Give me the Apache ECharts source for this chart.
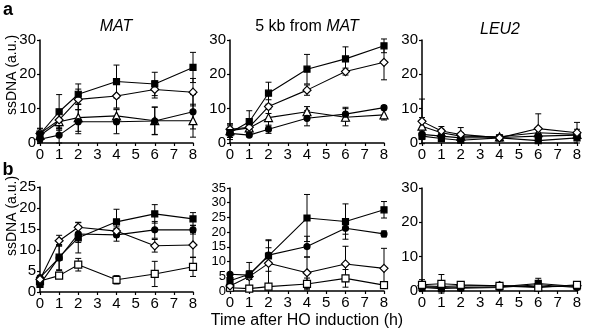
<!DOCTYPE html>
<html>
<head>
<meta charset="utf-8">
<script src="https://cdn.jsdelivr.net/npm/echarts@6/dist/echarts.min.js"></script>
<style>
    html, body { margin: 0; padding: 0; background: #fff; }
    #chart { width: 600px; height: 332px; }
</style>
</head>
<body>
<div id="chart"></div>
<script>
// time points (h)
var hours = [0, 1, 2, 4, 6, 8];

// a, MAT
var aMatSquare = [2.6, 9.1, 14.2, 17.9, 17.2, 22.0];
var aMatSquareErr = [1.5, 5.0, 3.0, 4.8, 3.4, 4.4];
var aMatDiamond = [2.8, 6.7, 12.7, 13.7, 15.6, 14.8];
var aMatDiamondErr = [1.5, 2.5, 3.0, 3.5, 2.5, 4.0];
var aMatTriangle = [2.2, 6.2, 7.4, 7.9, 6.5, 6.5];
var aMatTriangleErr = [1.0, 2.5, 4.0, 2.0, 4.0, 4.8];
var aMatCircle = [1.1, 2.3, 6.2, 6.2, 6.4, 9.1];
var aMatCircleErr = [1.0, 2.3, 3.5, 3.5, 4.0, 5.0];

// a, 5 kb from MAT
var a5kbSquare = [3.0, 6.2, 14.5, 21.5, 24.5, 28.3];
var a5kbSquareErr = [2.0, 3.2, 3.2, 4.3, 3.5, 2.0];
var a5kbDiamond = [4.0, 4.6, 10.6, 15.4, 20.8, 23.5];
var a5kbDiamondErr = [1.5, 1.0, 2.0, 1.5, 1.0, 5.1];
var a5kbTriangle = [3.6, 4.4, 7.4, 9.1, 7.5, 8.2];
var a5kbTriangleErr = [2.0, 1.5, 2.5, 1.5, 2.5, 1.5];
var a5kbCircle = [2.8, 2.3, 4.0, 7.2, 8.4, 10.3];
var a5kbCircleErr = [0.5, 0.5, 1.2, 2.2, 2.0, 0.5];

// a, LEU2
var aLeuDiamond = [6.3, 3.5, 2.5, 1.5, 4.2, 3.0];
var aLeuDiamondErr = [6.5, 1.3, 2.0, 0.5, 4.3, 3.0];
var aLeuTriangle = [4.9, 3.0, 2.0, 1.8, 3.0, 2.5];
var aLeuTriangleErr = [2.5, 1.0, 1.0, 0.5, 1.5, 1.5];
var aLeuSquare = [2.0, 1.3, 0.8, 1.5, 0.7, 1.5];
var aLeuSquareErr = [1.0, 0.5, 0.5, 0.5, 0.5, 0.5];
var aLeuCircle = [2.5, 2.0, 1.5, 1.6, 2.0, 2.3];
var aLeuCircleErr = [1.0, 0.5, 0.5, 0.5, 0.5, 0.5];

// b, MAT
var bMatSquare = [1.8, 8.3, 12.9, 16.7, 18.6, 17.4];
var bMatSquareErr = [0.5, 3.0, 3.6, 3.0, 2.2, 1.5];
var bMatCircle = [3.4, 8.1, 13.8, 13.6, 14.8, 14.8];
var bMatCircleErr = [0.5, 3.0, 2.0, 1.5, 2.0, 1.0];
var bMatDiamond = [3.0, 12.2, 15.4, 14.5, 11.0, 11.2];
var bMatDiamondErr = [0.5, 1.3, 1.2, 1.0, 1.5, 3.0];
var bMatOpenSquare = [2.6, 3.9, 6.5, 2.9, 4.3, 6.0];
var bMatOpenSquareErr = [0.5, 0.5, 1.5, 1.0, 3.0, 2.3];

// b, 5 kb from MAT
var b5kbSquare = [3.5, 5.7, 11.9, 24.8, 23.6, 27.6];
var b5kbSquareErr = [0.5, 4.0, 5.2, 8.0, 6.0, 2.8];
var b5kbCircle = [5.7, 5.4, 12.2, 15.1, 21.3, 19.4];
var b5kbCircleErr = [0.5, 1.5, 2.5, 3.5, 2.0, 1.0];
var b5kbDiamond = [1.7, 4.9, 9.4, 6.2, 9.2, 7.7];
var b5kbDiamondErr = [0.5, 1.0, 8.0, 5.3, 6.0, 6.8];
var b5kbOpenSquare = [1.1, 0.8, 1.5, 2.4, 4.3, 2.0];
var b5kbOpenSquareErr = [0.5, 0.5, 0.5, 2.0, 3.0, 1.0];

// b, LEU2
var bLeuOpenSquare = [1.8, 2.1, 1.8, 1.5, 1.0, 1.8];
var bLeuOpenSquareErr = [1.5, 2.7, 0.5, 0.5, 0.5, 0.5];
var bLeuSquare = [1.0, 0.7, 1.0, 1.2, 2.2, 1.3];
var bLeuSquareErr = [0.5, 0.5, 0.5, 0.5, 1.5, 0.5];
var bLeuCircle = [1.2, 1.0, 0.8, 1.0, 1.8, 1.0];
var bLeuCircleErr = [0.5, 0.5, 0.5, 0.5, 0.5, 0.5];
var bLeuDiamond = [1.5, 1.3, 1.5, 1.6, 1.2, 1.5];
var bLeuDiamondErr = [0.5, 0.5, 0.5, 0.5, 0.5, 0.5];

var FONT = 'Liberation Sans, Arial, Helvetica, sans-serif';

// marker styles
var SQ = {symbol: 'rect', size: 6, fill: '#000'};
var OSQ = {symbol: 'rect', size: 7, fill: '#fff'};
var DIA = {symbol: 'diamond', size: 8, fill: '#fff'};
var TRI = {symbol: 'triangle', size: 8, fill: '#fff'};
var CIR = {symbol: 'circle', size: 6, fill: '#000'};

var panels = [
    {left: 40, top: 40, width: 153, height: 103, max: 30, interval: 10, labelSize: 15,
        series: [[aMatTriangle, aMatTriangleErr, TRI], [aMatCircle, aMatCircleErr, CIR],
                 [aMatDiamond, aMatDiamondErr, DIA], [aMatSquare, aMatSquareErr, SQ]]},
    {left: 230, top: 40, width: 154, height: 103, max: 30, interval: 10, labelSize: 15,
        series: [[a5kbTriangle, a5kbTriangleErr, TRI], [a5kbCircle, a5kbCircleErr, CIR],
                 [a5kbDiamond, a5kbDiamondErr, DIA], [a5kbSquare, a5kbSquareErr, SQ]]},
    {left: 422, top: 40, width: 155, height: 103, max: 30, interval: 10, labelSize: 15,
        series: [[aLeuTriangle, aLeuTriangleErr, TRI], [aLeuCircle, aLeuCircleErr, CIR],
                 [aLeuSquare, aLeuSquareErr, SQ], [aLeuDiamond, aLeuDiamondErr, DIA]]},
    {left: 40, top: 187, width: 153, height: 105, max: 25, interval: 5, labelSize: 15,
        series: [[bMatOpenSquare, bMatOpenSquareErr, OSQ], [bMatCircle, bMatCircleErr, CIR],
                 [bMatSquare, bMatSquareErr, SQ], [bMatDiamond, bMatDiamondErr, DIA]]},
    {left: 230, top: 188, width: 154, height: 103, max: 35, interval: 5, labelSize: 13,
        series: [[b5kbOpenSquare, b5kbOpenSquareErr, OSQ], [b5kbDiamond, b5kbDiamondErr, DIA],
                 [b5kbCircle, b5kbCircleErr, CIR], [b5kbSquare, b5kbSquareErr, SQ]]},
    {left: 422, top: 188, width: 155, height: 103, max: 30, interval: 10, labelSize: 15,
        series: [[bLeuDiamond, bLeuDiamondErr, DIA], [bLeuCircle, bLeuCircleErr, CIR],
                 [bLeuSquare, bLeuSquareErr, SQ], [bLeuOpenSquare, bLeuOpenSquareErr, OSQ]]}
];

function errorBars(vals, errs, idx) {
    return {
        type: 'custom',
        xAxisIndex: idx,
        yAxisIndex: idx,
        silent: true,
        z: 1,
        data: hours.map(function (h, i) {
            return [h, vals[i] - errs[i], vals[i] + errs[i]];
        }),
        renderItem: function (params, api) {
            var lo = api.coord([api.value(0), api.value(1)]);
            var hi = api.coord([api.value(0), api.value(2)]);
            var w = 3;
            var st = {stroke: '#000', lineWidth: 1};
            return {
                type: 'group',
                children: [
                    {type: 'line', shape: {x1: lo[0], y1: lo[1], x2: hi[0], y2: hi[1]}, style: st},
                    {type: 'line', shape: {x1: lo[0] - w, y1: lo[1], x2: lo[0] + w, y2: lo[1]}, style: st},
                    {type: 'line', shape: {x1: hi[0] - w, y1: hi[1], x2: hi[0] + w, y2: hi[1]}, style: st}
                ]
            };
        }
    };
}

var grids = [], xAxes = [], yAxes = [], series = [];
panels.forEach(function (p, idx) {
    grids.push({left: p.left, top: p.top, width: p.width, height: p.height});
    xAxes.push({
        type: 'value', gridIndex: idx, min: 0, max: 8, interval: 1,
        axisLine: {onZero: false, lineStyle: {color: '#000', width: 1.5}},
        axisTick: {length: 3, lineStyle: {color: '#000', width: 1.2}},
        axisLabel: {color: '#000', fontSize: 15, fontFamily: FONT, margin: 4,
            showMinLabel: true, showMaxLabel: true, hideOverlap: false},
        splitLine: {show: false}
    });
    yAxes.push({
        type: 'value', gridIndex: idx, min: 0, max: p.max, interval: p.interval,
        axisLine: {show: true, onZero: false, lineStyle: {color: '#000', width: 1.5}},
        axisTick: {show: true, length: 3, lineStyle: {color: '#000', width: 1.2}},
        axisLabel: {color: '#000', fontSize: p.labelSize, lineHeight: p.labelSize, fontFamily: FONT, margin: 4,
            showMinLabel: true, showMaxLabel: true, hideOverlap: false},
        splitLine: {show: false}
    });
    p.series.forEach(function (s) {
        series.push(errorBars(s[0], s[1], idx));
    });
    p.series.forEach(function (s) {
        var m = s[2];
        series.push({
            type: 'line',
            xAxisIndex: idx,
            yAxisIndex: idx,
            z: 3,
            data: hours.map(function (h, i) { return [h, s[0][i]]; }),
            symbol: m.symbol,
            symbolSize: m.size,
            showAllSymbol: true,
            itemStyle: {color: m.fill, borderColor: '#000', borderWidth: 1.2},
            lineStyle: {color: '#000', width: 1.1}
        });
    });
});

function label(text, x, y, size, extra) {
    var style = {text: text, x: x, y: y, fill: '#000', fontSize: size, fontFamily: FONT,
        textAlign: 'center', textVerticalAlign: 'middle'};
    for (var k in extra) { style[k] = extra[k]; }
    return {type: 'text', style: style};
}

var graphics = [
    label('a', 8, 10, 18, {fontWeight: 'bold'}),
    label('b', 8, 170, 18, {fontWeight: 'bold'}),
    label('MAT', 116, 27, 16, {fontStyle: 'italic'}),
    label('5 kb from {i|MAT}', 307, 27, 16, {rich: {i: {fontStyle: 'italic', fontSize: 16, fontFamily: FONT}}}),
    label('LEU2', 500, 30, 16, {fontStyle: 'italic'}),
    label('Time after HO induction (h)', 307, 321, 16, {}),
    {type: 'text', x: 12, y: 75, rotation: Math.PI / 2,
        style: {text: 'ssDNA (a.u.)', fill: '#000', fontSize: 14, fontFamily: FONT,
            textAlign: 'center', textVerticalAlign: 'middle'}},
    {type: 'text', x: 12, y: 216, rotation: Math.PI / 2,
        style: {text: 'ssDNA (a.u.)', fill: '#000', fontSize: 14, fontFamily: FONT,
            textAlign: 'center', textVerticalAlign: 'middle'}}
];

var myChart = echarts.init(document.getElementById('chart'));
var option = {
    animation: false,
    backgroundColor: '#fff',
    grid: grids,
    xAxis: xAxes,
    yAxis: yAxes,
    series: series,
    graphic: graphics
};
myChart.setOption(option);
</script>
</body>
</html>
